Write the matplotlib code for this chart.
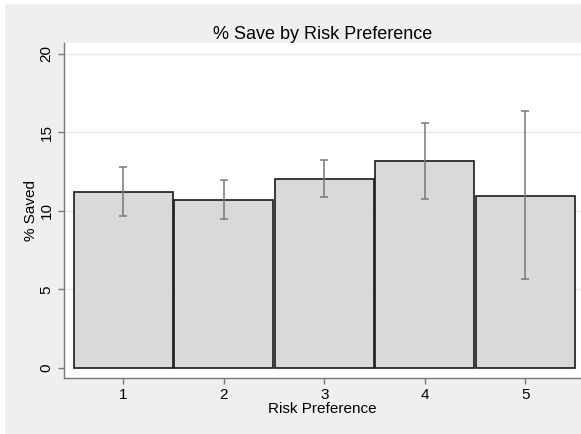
import numpy as np
import matplotlib
matplotlib.use("Agg")
import matplotlib.pyplot as plt
from matplotlib.patches import Rectangle

plt.rcParams['font.family'] = ['Liberation Sans', 'DejaVu Sans']

risk = [1, 2, 3, 4, 5]
pct_saved = [11.21, 10.72, 12.03, 13.16, 10.93]
ci_low = [9.66, 9.51, 10.87, 10.74, 5.64]
ci_high = [12.82, 11.97, 13.26, 15.62, 16.34]

fig = plt.figure(figsize=(5.81, 4.34), dpi=100)
fig.patch.set_facecolor('white')
# gray graph region (Stata style)
fig.patches.append(Rectangle((5 / 581, 0.0), 1.0, 1 - 4 / 434, transform=fig.transFigure,
                             facecolor='#efefef', edgecolor='none', zorder=-10))

ax = fig.add_axes([64 / 581, 1 - 378 / 434, 1 - 64 / 581, (378 - 43) / 434])
ax.set_facecolor('white')

for y in [5, 10, 15, 20]:
    ax.axhline(y, color='#e8e8e8', lw=1, zorder=0)

ax.bar(risk, pct_saved, width=0.985, color='#d9d9d9', edgecolor='#1a1a1a', linewidth=1.2, zorder=2)
x = np.array(risk)
mid = np.array(pct_saved)
err = [mid - np.array(ci_low), np.array(ci_high) - mid]
ax.errorbar(x, mid, yerr=err, fmt='none', ecolor='#787878', elinewidth=1.1,
            capsize=2.7, capthick=1.1, zorder=3)

ax.set_xlim(0.41, 5.554)
ax.set_ylim(-0.64, 20.68)
ax.set_xticks(risk)
ax.set_yticks([0, 5, 10, 15, 20])
ax.tick_params(axis='both', colors='#777777', labelcolor='black', labelsize=11, length=4, width=1)
for lbl in ax.get_yticklabels():
    lbl.set_rotation(90)
    lbl.set_va('center')

for side in ['top', 'right']:
    ax.spines[side].set_visible(False)
for side in ['left', 'bottom']:
    ax.spines[side].set_color('#777777')
    ax.spines[side].set_linewidth(1)

ax.set_xlabel('Risk Preference', fontsize=11, labelpad=0)
ax.set_ylabel('% Saved', fontsize=11, labelpad=1)
ax.set_title('% Save by Risk Preference', fontsize=13, pad=3)

fig.savefig('out.png', dpi=100)
